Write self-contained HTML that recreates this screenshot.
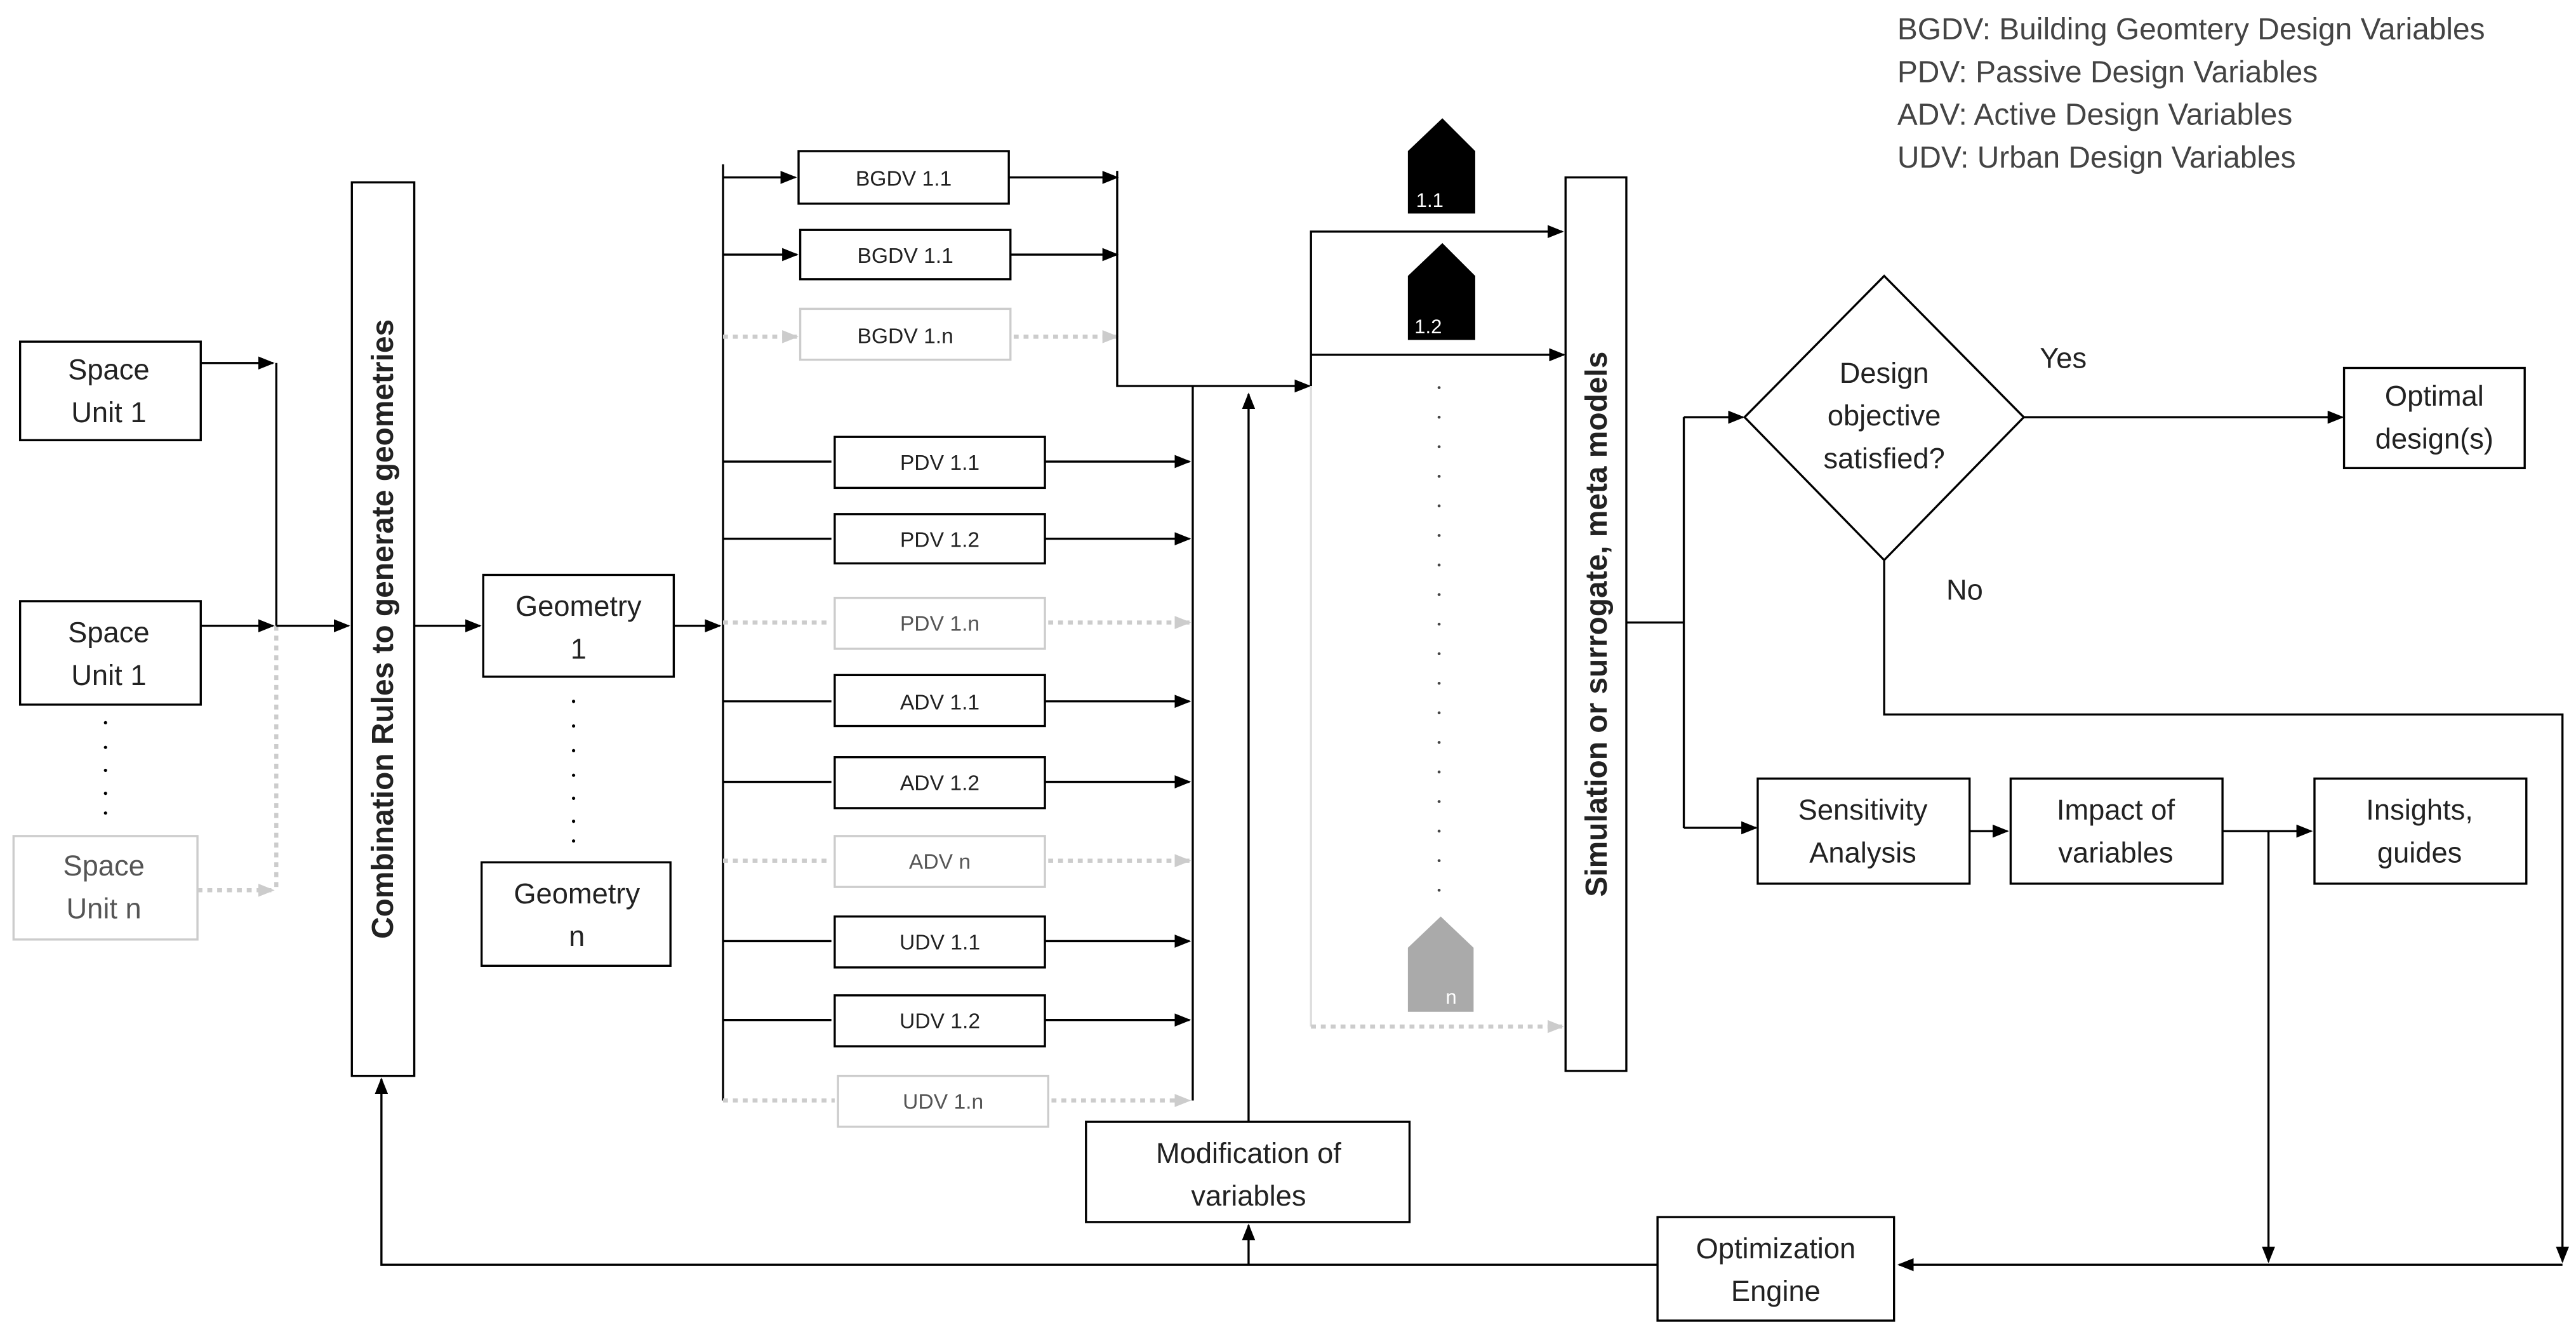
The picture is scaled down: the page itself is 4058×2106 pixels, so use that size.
<!DOCTYPE html>
<html><head><meta charset="utf-8"><style>
html,body{margin:0;padding:0;background:#fff}
svg{display:block}
text{font-family:"Liberation Sans",sans-serif;fill:#222}
</style></head><body>
<svg width="4058" height="2106" viewBox="0 0 1568 814" xmlns="http://www.w3.org/2000/svg">
<defs>
<marker id="a" markerWidth="10" markerHeight="8" refX="9" refY="4" orient="auto" markerUnits="userSpaceOnUse"><path d="M0,0 L10,4 L0,8 Z" fill="#000"/></marker>
<marker id="g" markerWidth="10" markerHeight="8" refX="9" refY="4" orient="auto" markerUnits="userSpaceOnUse"><path d="M0,0 L10,4 L0,8 Z" fill="#ccc"/></marker>
</defs>
<g fill="none" stroke="#000" stroke-width="1.3">
<rect x="12" y="208" width="110" height="60"/>
<rect x="12" y="366" width="110" height="63"/>
<rect x="8" y="509" width="112" height="63" stroke="#ccc"/>
<path d="M122,221 H166" marker-end="url(#a)"/>
<path d="M168,221 V381"/>
<path d="M122,381 H166" marker-end="url(#a)"/>
<path d="M120,542 H166" stroke="#ccc" stroke-width="2.5" stroke-dasharray="3,3" marker-end="url(#g)"/>
<path d="M168,381 V542" stroke="#ccc" stroke-width="2.5" stroke-dasharray="3,3"/>
<path d="M168,381 H212" marker-end="url(#a)"/>
<rect x="214" y="111" width="38" height="544"/>
<path d="M252,381 H292" marker-end="url(#a)"/>
<rect x="294" y="350" width="116" height="62"/>
<rect x="293" y="525" width="115" height="63"/>
<path d="M410,381 H438" marker-end="url(#a)"/>
<path d="M440,100 V670"/>
<rect x="486" y="92" width="128" height="32"/>
<rect x="487" y="140" width="128" height="30"/>
<rect x="487" y="188" width="128" height="31" stroke="#ccc"/>
<path d="M440,108 H484" marker-end="url(#a)"/>
<path d="M440,155 H485" marker-end="url(#a)"/>
<path d="M440,205 H485" stroke="#ccc" stroke-width="2.5" stroke-dasharray="3,3" marker-end="url(#g)"/>
<path d="M614,108 H680" marker-end="url(#a)"/>
<path d="M615,155 H680" marker-end="url(#a)"/>
<path d="M617,205 H680" stroke="#ccc" stroke-width="2.5" stroke-dasharray="3,3" marker-end="url(#g)"/>
<path d="M680,104 V235 H797" marker-end="url(#a)"/>
<rect x="508" y="266" width="128" height="31"/>
<rect x="508" y="313" width="128" height="30"/>
<rect x="508" y="364" width="128" height="31" stroke="#ccc"/>
<rect x="508" y="411" width="128" height="31"/>
<rect x="508" y="461" width="128" height="31"/>
<rect x="508" y="509" width="128" height="31" stroke="#ccc"/>
<rect x="508" y="558" width="128" height="31"/>
<rect x="508" y="606" width="128" height="31"/>
<rect x="510" y="655" width="128" height="31" stroke="#ccc"/>
<path d="M440,281 H506 M636,281 H724" marker-end="url(#a)"/>
<path d="M440,328 H506 M636,328 H724" marker-end="url(#a)"/>
<path d="M440,427 H506 M636,427 H724" marker-end="url(#a)"/>
<path d="M440,476 H506 M636,476 H724" marker-end="url(#a)"/>
<path d="M440,573 H506 M636,573 H724" marker-end="url(#a)"/>
<path d="M440,621 H506 M636,621 H724" marker-end="url(#a)"/>
<path d="M440,379 H506 M638,379 H724" stroke="#ccc" stroke-width="2.5" stroke-dasharray="3,3" marker-end="url(#g)"/>
<path d="M440,524 H506 M638,524 H724" stroke="#ccc" stroke-width="2.5" stroke-dasharray="3,3" marker-end="url(#g)"/>
<path d="M440,670 H508 M640,670 H724" stroke="#ccc" stroke-width="2.5" stroke-dasharray="3,3" marker-end="url(#g)"/>
<path d="M726,235 V670"/>
<path d="M760,683 V240" marker-end="url(#a)"/>
<rect x="661" y="683" width="197" height="61"/>
<path d="M798,235 V141 H951" marker-end="url(#a)"/>
<path d="M798,216 H952" marker-end="url(#a)"/>
<path d="M798,235 V625" stroke="#ddd"/>
<path d="M798,625 H951" stroke="#ccc" stroke-width="2.5" stroke-dasharray="3,3" marker-end="url(#g)"/>
<rect x="953" y="108" width="37" height="544"/>
<path d="M990,379 H1025 M1025,254 V504"/>
<path d="M1025,254 H1061" marker-end="url(#a)"/>
<path d="M1025,504 H1069" marker-end="url(#a)"/>
<polygon points="1147,168 1232,254 1147,341 1062,254"/>
<path d="M1232,254 H1426" marker-end="url(#a)"/>
<rect x="1427" y="224" width="110" height="61"/>
<path d="M1147,341 V435 H1560 V768" marker-end="url(#a)"/>
<rect x="1070" y="474" width="129" height="64"/>
<rect x="1224" y="474" width="129" height="64"/>
<rect x="1409" y="474" width="129" height="64"/>
<path d="M1199,506 H1222" marker-end="url(#a)"/>
<path d="M1353,506 H1407" marker-end="url(#a)"/>
<path d="M1381,506 V768" marker-end="url(#a)"/>
<path d="M1560,770 H1156" marker-end="url(#a)"/>
<rect x="1009" y="741" width="144" height="63"/>
<path d="M1009,770 H232 V657" marker-end="url(#a)"/>
<path d="M760,770 V746" marker-end="url(#a)"/>
</g>
<polygon points="878,72 898,92 898,130 857,130 857,92" fill="#000"/>
<polygon points="878,148 898,168 898,207 857,207 857,168" fill="#000"/>
<polygon points="877,558 897,577 897,616 857,616 857,577" fill="#aaa"/>
<text x="862" y="126" font-size="12" style="fill:#fff">1.1</text>
<text x="861" y="203" font-size="12" style="fill:#fff">1.2</text>
<text x="880" y="611" font-size="12" style="fill:#fff">n</text>
<g fill="#000">
<circle cx="64" cy="440" r="1"/><circle cx="64" cy="455" r="1"/><circle cx="64" cy="469" r="1"/><circle cx="64" cy="483" r="1"/><circle cx="64" cy="495" r="1"/>
<circle cx="349" cy="427" r="1"/><circle cx="349" cy="442" r="1"/><circle cx="349" cy="457" r="1"/><circle cx="349" cy="472" r="1"/><circle cx="349" cy="486" r="1"/><circle cx="349" cy="500" r="1"/><circle cx="349" cy="512" r="1"/>
</g>
<g fill="#444">
<circle cx="876" cy="236" r="0.9"/><circle cx="876" cy="254" r="0.9"/><circle cx="876" cy="272" r="0.9"/><circle cx="876" cy="290" r="0.9"/><circle cx="876" cy="308" r="0.9"/><circle cx="876" cy="326" r="0.9"/><circle cx="876" cy="344" r="0.9"/><circle cx="876" cy="362" r="0.9"/><circle cx="876" cy="380" r="0.9"/><circle cx="876" cy="398" r="0.9"/><circle cx="876" cy="416" r="0.9"/><circle cx="876" cy="434" r="0.9"/><circle cx="876" cy="452" r="0.9"/><circle cx="876" cy="470" r="0.9"/><circle cx="876" cy="488" r="0.9"/><circle cx="876" cy="506" r="0.9"/><circle cx="876" cy="524" r="0.9"/><circle cx="876" cy="542" r="0.9"/>
</g>
<g font-size="17.5" text-anchor="middle">
<text x="66" y="231">Space</text><text x="66" y="257">Unit 1</text>
<text x="66" y="391">Space</text><text x="66" y="417">Unit 1</text>
<text x="63" y="533" style="fill:#555">Space</text><text x="63" y="559" style="fill:#555">Unit n</text>
<text x="352" y="375">Geometry</text><text x="352" y="401">1</text>
<text x="351" y="550">Geometry</text><text x="351" y="576">n</text>
<text x="760" y="708">Modification of</text><text x="760" y="734">variables</text>
<text x="1147" y="233">Design</text><text x="1147" y="259">objective</text><text x="1147" y="285">satisfied?</text>
<text x="1482" y="247">Optimal</text><text x="1482" y="273">design(s)</text>
<text x="1134" y="499">Sensitivity</text><text x="1134" y="525">Analysis</text>
<text x="1288" y="499">Impact of</text><text x="1288" y="525">variables</text>
<text x="1473" y="499">Insights,</text><text x="1473" y="525">guides</text>
<text x="1081" y="766">Optimization</text><text x="1081" y="792">Engine</text>
<text x="1256" y="224">Yes</text><text x="1196" y="365">No</text>
<text transform="translate(239,383) rotate(-90)" font-weight="bold" font-size="18.5">Combination Rules to generate geometries</text>
<text transform="translate(978,380) rotate(-90)" font-weight="bold" font-size="18.5">Simulation or surrogate, meta models</text>
</g>
<g font-size="13" text-anchor="middle">
<text x="550" y="113">BGDV 1.1</text><text x="551" y="160">BGDV 1.1</text><text x="551" y="209">BGDV 1.n</text>
<text x="572" y="286">PDV 1.1</text><text x="572" y="333">PDV 1.2</text><text x="572" y="384" style="fill:#555">PDV 1.n</text>
<text x="572" y="432">ADV 1.1</text><text x="572" y="481">ADV 1.2</text><text x="572" y="529" style="fill:#555">ADV n</text>
<text x="572" y="578">UDV 1.1</text><text x="572" y="626">UDV 1.2</text><text x="574" y="675" style="fill:#555">UDV 1.n</text>
</g>
<g font-size="18.5">
<text x="1155" y="24" style="fill:#444">BGDV: Building Geomtery Design Variables</text>
<text x="1155" y="50" style="fill:#444">PDV: Passive Design Variables</text>
<text x="1155" y="76" style="fill:#444">ADV: Active Design Variables</text>
<text x="1155" y="102" style="fill:#444">UDV: Urban Design Variables</text>
</g>
</svg>
</body></html>
